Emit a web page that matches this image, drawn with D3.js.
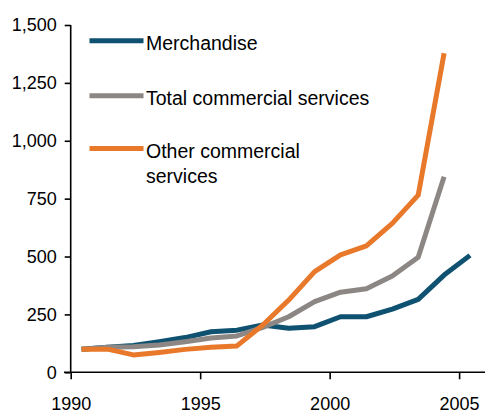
<!DOCTYPE html>
<html>
<head>
<meta charset="utf-8">
<script src="https://cdn.jsdelivr.net/npm/d3@7"></script>
<style>
html,body{margin:0;padding:0;background:#fff;}
svg{display:block;font-family:"Liberation Sans",Arial,sans-serif;}
</style>
</head>
<body>
<svg id="chart" width="495" height="410"></svg>
<script>
const years = [1990,1991,1992,1993,1994,1995,1996,1997,1998,1999,2000,2001,2002,2003,2004,2005];
const merchandise = [100,108,116,132,150,175,182,204,190,197,240,240,273,315,420,505];
const totalServices = [100,108,110,118,132,148,157,194,240,305,346,361,416,497,845];
const otherServices = [100,100,75,86,99,108,114,204,312,435,507,546,643,765,1378];
const yTicks = [0,250,500,750,1000,1250,1500];
const xTicks = [1990,1995,2000,2005];
const seriesNames = ["Merchandise","Total commercial services","Other commercial services"];

const colors = ["#0f5170","#8c8784","#e8782a"];
const svg = d3.select("#chart");

const x = d3.scaleLinear().domain([1990,2006]).range([70.7,485]);
const y = d3.scaleLinear().domain([0,1500]).range([372.3,25]);
const offset = 0.42;

// axes
const yAxis = d3.axisLeft(y).tickValues(yTicks).tickSize(6).tickPadding(8)
  .tickFormat(d3.format(","));
const gy = svg.append("g").attr("transform","translate(70.7,0)").call(yAxis);
gy.select(".domain").attr("d","M0,25V372.3").attr("stroke","#000").attr("stroke-width",1.6);
gy.selectAll(".tick line").attr("stroke","#000").attr("stroke-width",1.6);
gy.selectAll(".tick text").attr("font-size","18px").attr("fill","#000")
  .attr("font-family","'Liberation Sans',Arial,sans-serif");

const xAxis = d3.axisBottom(x).tickValues(xTicks).tickSize(7).tickPadding(18)
  .tickFormat(d3.format("d"));
const gx = svg.append("g").attr("transform","translate(0,372.3)").call(xAxis);
gx.select(".domain").attr("d","M64,0H485").attr("stroke","#000").attr("stroke-width",1.6);
gx.selectAll(".tick line").attr("stroke","#000").attr("stroke-width",1.6);
gx.selectAll(".tick text").attr("font-size","18px").attr("fill","#000")
  .attr("font-family","'Liberation Sans',Arial,sans-serif");

// lines
const line = d3.line().x((d,i)=>x(years[i]+offset)).y(d=>y(d));
const data = [merchandise,totalServices,otherServices];
[0,1,2].forEach(k=>{
  svg.append("path").datum(data[k]).attr("d",line)
    .attr("fill","none").attr("stroke",colors[k]).attr("stroke-width",5)
    .attr("stroke-linejoin","round").attr("stroke-linecap","butt");
});

// legend
const legY = [40.7,95.7,148.5];
const leg = svg.append("g");
seriesNames.forEach((name,k)=>{
  leg.append("line").attr("x1",89.5).attr("x2",143.5).attr("y1",legY[k]).attr("y2",legY[k])
    .attr("stroke",colors[k]).attr("stroke-width",5);
  const t = leg.append("text").attr("x",146).attr("y",legY[k]+9.5)
    .attr("font-size","19.5px").attr("fill","#000");
  if(k===2){
    t.append("tspan").attr("x",146).text("Other commercial");
    t.append("tspan").attr("x",146).attr("dy",24.5).text("services");
  } else {
    t.text(name);
  }
});
</script>
</body>
</html>
